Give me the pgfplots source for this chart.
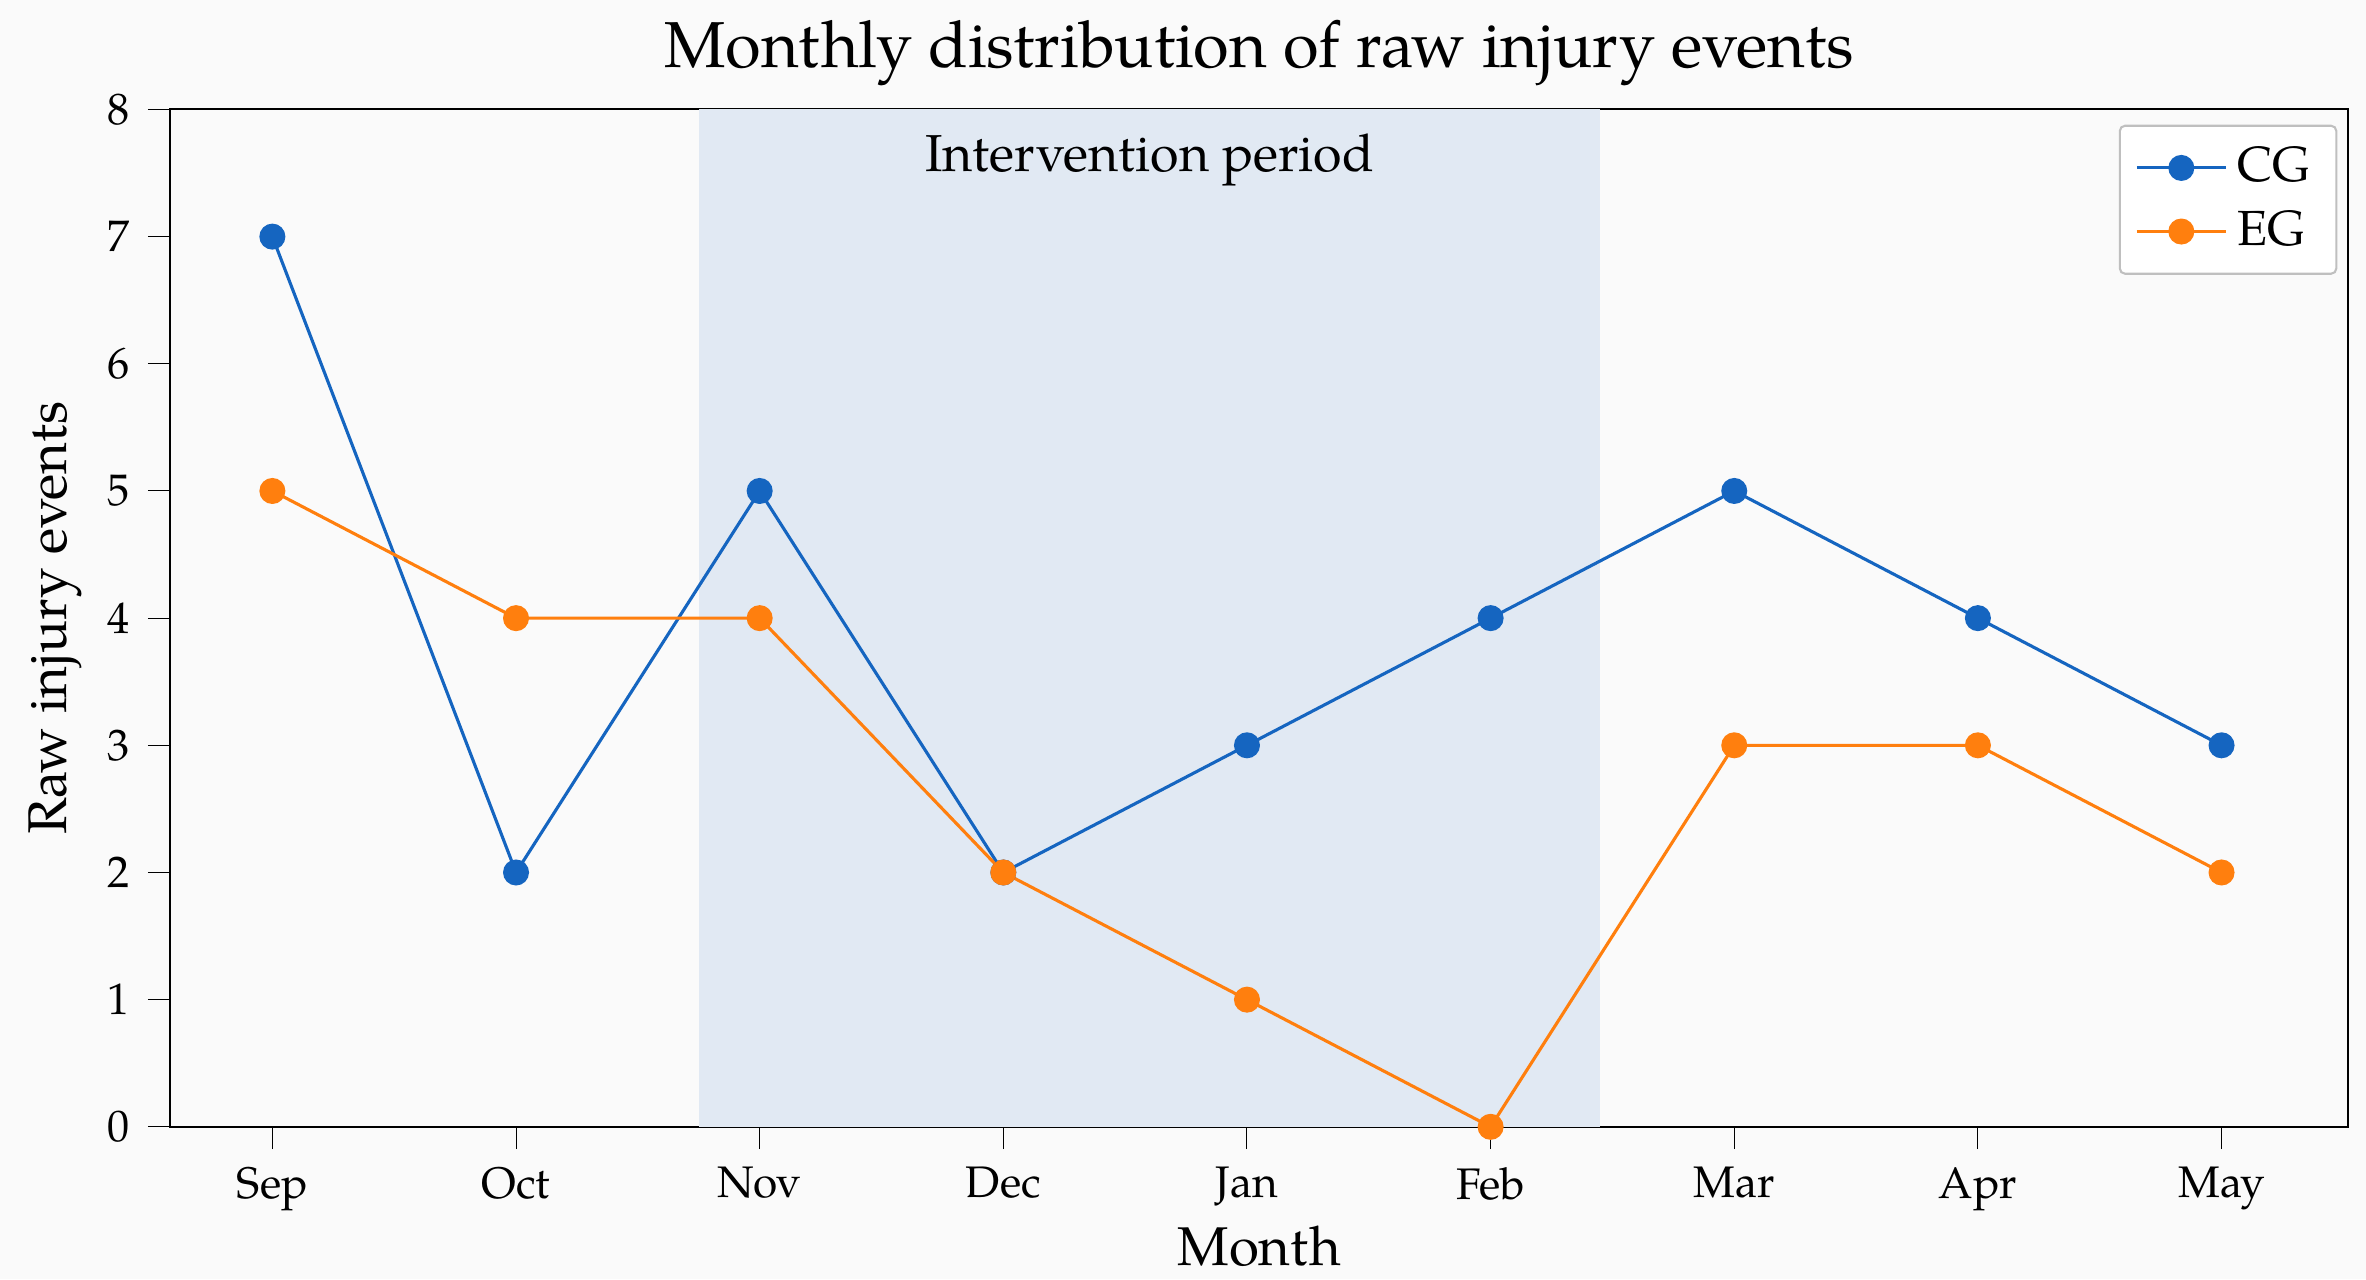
\documentclass[border=0pt]{standalone}
\usepackage{pgfplots}
\pgfplotsset{compat=1.18}
\usepackage{fontspec}
\setmainfont{TeX Gyre Pagella}
\definecolor{cg}{HTML}{1565C0}
\definecolor{eg}{HTML}{FF7F0E}
\definecolor{band}{HTML}{E1E9F3}
\begin{document}
\begin{tikzpicture}
\fill[white!98!black] (-1.15,-1.03) rectangle (14.85,7.62);
\useasboundingbox (-1.15,-1.03) rectangle (14.85,7.62);
\begin{axis}[
  width=14.73cm, height=6.88cm, scale only axis,
  xmin=-0.42, xmax=8.52, ymin=0, ymax=8,
  xtick={0,...,8},
  xticklabels={Sep,Oct,Nov,Dec,Jan,Feb,Mar,Apr,May},
  ytick={0,...,8},
  tick label style={font=\fontsize{8.5}{10}\selectfont},
  /pgf/number format/assume math mode=true,
  xlabel={Month}, ylabel={Raw injury events},
  label style={font=\fontsize{10.5}{12}\selectfont},
  xlabel style={yshift=4pt},
  ylabel style={yshift=-2pt},
  title={Monthly distribution of raw injury events},
  title style={font=\fontsize{12.5}{14}\selectfont, yshift=-5pt},
  axis background/.style={fill=white!98!black},
  tick align=outside, tick style={black},
  xtick pos=bottom, ytick pos=left,
  legend style={at={(0.995,0.985)}, anchor=north east, font=\fontsize{9.5}{11}\selectfont, draw=black!25, rounded corners=1pt},
  legend cell align=left,
  clip=false,
]
\fill[band] (axis cs:1.75,0) rectangle (axis cs:5.45,8);
\node[font=\fontsize{10}{12}\selectfont] at (axis cs:3.6,7.6) {Intervention period};
\addplot[cg, semithick, mark=*, mark size=2.2pt] coordinates {(0,7)(1,2)(2,5)(3,2)(4,3)(5,4)(6,5)(7,4)(8,3)};
\addlegendentry{CG}
\addplot[eg, semithick, mark=*, mark size=2.2pt] coordinates {(0,5)(1,4)(2,4)(3,2)(4,1)(5,0)(6,3)(7,3)(8,2)};
\addlegendentry{EG}
\end{axis}
\end{tikzpicture}
\end{document}
